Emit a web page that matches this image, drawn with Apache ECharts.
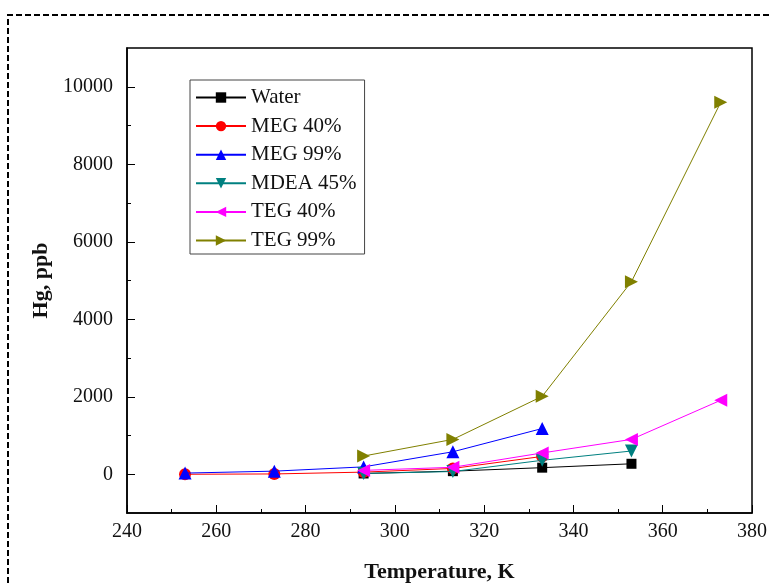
<!DOCTYPE html>
<html>
<head>
<meta charset="utf-8">
<script src="https://cdn.jsdelivr.net/npm/echarts@6/dist/echarts.min.js"></script>
<style>
html,body{margin:0;padding:0;background:#fff;}
#chart{width:772px;height:583px;}
</style>
</head>
<body>
<div id="chart"></div>
<script>
// Data
const seriesNames = ['Water', 'MEG 40%', 'MEG 99%', 'MDEA 45%', 'TEG 40%', 'TEG 99%'];
const waterData   = [[293, 20], [313, 80], [333, 170], [353, 270]];
const meg40Data   = [[253, 0], [273, 8], [293, 55], [313, 150], [333, 460]];
const meg99Data   = [[253, 30], [273, 80], [293, 190], [313, 580], [333, 1180]];
const mdea45Data  = [[293, 20], [313, 70], [333, 360], [353, 600]];
const teg40Data   = [[293, 100], [313, 180], [333, 550], [353, 900], [373, 1910]];
const teg99Data   = [[293, 470], [313, 900], [333, 2010], [353, 4970], [373, 9600]];
const yMajorTicks = [0, 2000, 4000, 6000, 8000, 10000];
const yMinorTicks = [1000, 3000, 5000, 7000, 9000];

const serifFont = '"Liberation Serif", "Times New Roman", serif';
const colors = ['#000000', '#ff0000', '#0000ff', '#008080', '#ff00ff', '#808000'];
const symbols = ['rect', 'circle', 'triangle', 'triangle', 'triangle', 'triangle'];
const rotations = [0, 0, 0, 180, 90, -90];
const sizes = [10, 12, 13, 13, 13, 13];
const datasets = [waterData, meg40Data, meg99Data, mdea45Data, teg40Data, teg99Data];

const chart = echarts.init(document.getElementById('chart'), null, {renderer: 'canvas'});

const series = seriesNames.map((name, i) => ({
  name: name,
  type: 'line',
  data: datasets[i],
  symbol: symbols[i],
  symbolSize: sizes[i],
  symbolRotate: rotations[i],
  showAllSymbol: true,
  lineStyle: {color: colors[i], width: 1},
  itemStyle: {color: colors[i]},
  emphasis: {disabled: true},
  animation: false,
  z: 2 + i
}));

const option = {
  backgroundColor: '#fff',
  animation: false,
  grid: {left: 127, right: 20, top: 48, bottom: 70, show: true, borderColor: '#000', borderWidth: 1.5,
         backgroundColor: 'transparent', outerBoundsMode: 'none', containLabel: false},
  legend: {
    orient: 'vertical',
    left: 190,
    top: 80,
    data: seriesNames,
    itemWidth: 50,
    itemHeight: 13,
    itemGap: 7.6,
    padding: [7, 8, 3, 5],
    borderColor: '#444',
    borderWidth: 1,
    backgroundColor: '#fff',
    textStyle: {fontFamily: serifFont, fontSize: 21, color: '#111', lineHeight: 20.6},
    z: 10
  },
  xAxis: {
    type: 'value',
    min: 240,
    max: 380,
    interval: 20,
    name: 'Temperature, K',
    nameLocation: 'middle',
    nameGap: 48,
    nameTextStyle: {fontFamily: serifFont, fontSize: 22, fontWeight: 'bold', color: '#111'},
    axisLine: {show: true, onZero: false, lineStyle: {color: '#000', width: 1.5}},
    axisTick: {show: true, inside: true, length: 8, lineStyle: {color: '#000', width: 1}},
    minorTick: {show: true, splitNumber: 2, length: 4, lineStyle: {color: '#000', width: 1}},
    axisLabel: {fontFamily: serifFont, fontSize: 20, color: '#111', margin: 9, formatter: v => String(v)},
    splitLine: {show: false}
  },
  yAxis: [{
    type: 'value',
    min: -1000,
    max: 11000,
    name: 'Hg, ppb',
    nameLocation: 'middle',
    nameGap: 72,
    nameRotate: 90,
    nameTextStyle: {fontFamily: serifFont, fontSize: 22, fontWeight: 'bold', color: '#111'},
    axisLine: {show: true, onZero: false, lineStyle: {color: '#000', width: 1.5}},
    axisTick: {show: true, inside: true, length: 8, customValues: yMajorTicks, lineStyle: {color: '#000', width: 1}},
    axisLabel: {fontFamily: serifFont, fontSize: 20, color: '#111', margin: 14, customValues: yMajorTicks, formatter: v => String(v)},
    splitLine: {show: false}
  }, {
    type: 'value',
    position: 'left',
    min: -1000,
    max: 11000,
    axisLine: {show: false},
    axisTick: {show: true, inside: true, length: 4, customValues: yMinorTicks, lineStyle: {color: '#000', width: 1}},
    axisLabel: {show: false},
    splitLine: {show: false}
  }],
  graphic: [{
    type: 'polyline',
    shape: {points: [[8, 583], [8, 15], [772, 15]]},
    style: {stroke: '#000', lineWidth: 2, lineDash: [6, 3], fill: null},
    silent: true
  }],
  series: series
};

chart.setOption(option);
</script>
</body>
</html>
